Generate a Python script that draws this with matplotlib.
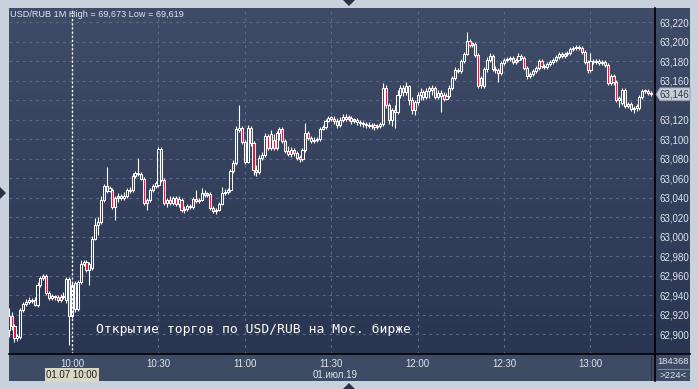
import numpy as np
import matplotlib.pyplot as plt
from matplotlib.patches import Rectangle, Polygon
from matplotlib.lines import Line2D
from matplotlib.colors import LinearSegmentedColormap

# 1-minute USD/RUB candles, first candle at 09:38
opens = [
    62.904, 62.919, 62.908, 62.896, 62.897, 62.925, 62.931, 62.933, 62.935, 62.935,
    62.930, 62.950, 62.957, 62.960, 62.942, 62.937, 62.939, 62.938, 62.935, 62.938,
    62.935, 62.956, 62.919, 62.952, 62.926, 62.953, 62.972, 62.974, 62.966, 62.968,
    62.998, 63.012, 63.015, 63.037, 63.052, 63.047, 63.048, 63.030, 63.040, 63.041,
    63.040, 63.042, 63.048, 63.048, 63.062, 63.065, 63.064, 63.059, 63.034, 63.037,
    63.048, 63.052, 63.053, 63.090, 63.058, 63.034, 63.037, 63.034, 63.040, 63.033,
    63.037, 63.027, 63.028, 63.031, 63.030, 63.039, 63.036, 63.037, 63.045, 63.043,
    63.044, 63.029, 63.026, 63.027, 63.033, 63.045, 63.046, 63.048, 63.067, 63.075,
    63.109, 63.111, 63.097, 63.077, 63.111, 63.096, 63.068, 63.066, 63.081, 63.084,
    63.103, 63.091, 63.099, 63.091, 63.106, 63.110, 63.098, 63.088, 63.085, 63.089,
    63.086, 63.081, 63.080, 63.089, 63.106, 63.101, 63.098, 63.099, 63.100, 63.110,
    63.112, 63.119, 63.122, 63.121, 63.119, 63.114, 63.120, 63.123, 63.121, 63.122,
    63.119, 63.120, 63.118, 63.116, 63.115, 63.114, 63.113, 63.114, 63.112, 63.113,
    63.115, 63.152, 63.135, 63.120, 63.130, 63.128, 63.145, 63.152, 63.148, 63.154,
    63.140, 63.130, 63.138, 63.145, 63.148, 63.143, 63.149, 63.152, 63.152, 63.143,
    63.147, 63.145, 63.141, 63.144, 63.152, 63.163, 63.171, 63.170, 63.180, 63.187,
    63.201, 63.197, 63.198, 63.186, 63.163, 63.154, 63.172, 63.181, 63.185, 63.172,
    63.171, 63.168, 63.178, 63.181, 63.182, 63.183, 63.179, 63.181, 63.185, 63.183,
    63.173, 63.165, 63.167, 63.170, 63.173, 63.180, 63.175, 63.174, 63.177, 63.179,
    63.181, 63.184, 63.187, 63.185, 63.187, 63.188, 63.192, 63.193, 63.194, 63.193,
    63.189, 63.179, 63.171, 63.180, 63.179, 63.180, 63.178, 63.179, 63.176, 63.158,
    63.165, 63.159, 63.140, 63.137, 63.150, 63.134, 63.136, 63.131, 63.132, 63.132,
    63.143, 63.149, 63.149, 63.147,
]
highs = [
    62.927, 62.923, 62.910, 62.900, 62.927, 62.933, 62.936, 62.938, 62.937, 62.938,
    62.953, 62.960, 62.962, 62.962, 62.944, 62.941, 62.940, 62.940, 62.941, 62.943,
    62.958, 62.958, 62.953, 62.954, 62.955, 62.976, 62.976, 62.976, 62.974, 63.001,
    63.019, 63.020, 63.042, 63.054, 63.071, 63.052, 63.050, 63.042, 63.045, 63.044,
    63.046, 63.050, 63.051, 63.065, 63.067, 63.081, 63.066, 63.061, 63.040, 63.050,
    63.054, 63.057, 63.092, 63.092, 63.060, 63.040, 63.042, 63.042, 63.042, 63.042,
    63.040, 63.031, 63.033, 63.033, 63.041, 63.048, 63.040, 63.050, 63.048, 63.046,
    63.046, 63.031, 63.029, 63.035, 63.051, 63.049, 63.050, 63.069, 63.079, 63.113,
    63.135, 63.113, 63.099, 63.114, 63.113, 63.098, 63.073, 63.084, 63.087, 63.106,
    63.105, 63.109, 63.105, 63.108, 63.112, 63.112, 63.100, 63.093, 63.092, 63.091,
    63.088, 63.084, 63.091, 63.116, 63.108, 63.103, 63.102, 63.102, 63.112, 63.114,
    63.121, 63.124, 63.124, 63.124, 63.122, 63.123, 63.126, 63.126, 63.125, 63.124,
    63.122, 63.122, 63.120, 63.119, 63.118, 63.118, 63.116, 63.116, 63.115, 63.118,
    63.158, 63.155, 63.137, 63.132, 63.135, 63.150, 63.156, 63.155, 63.159, 63.156,
    63.143, 63.140, 63.148, 63.152, 63.150, 63.152, 63.154, 63.155, 63.154, 63.150,
    63.150, 63.148, 63.147, 63.155, 63.165, 63.174, 63.173, 63.182, 63.189, 63.210,
    63.203, 63.200, 63.200, 63.188, 63.165, 63.174, 63.184, 63.188, 63.187, 63.175,
    63.173, 63.180, 63.183, 63.184, 63.185, 63.185, 63.183, 63.188, 63.187, 63.185,
    63.175, 63.169, 63.172, 63.175, 63.182, 63.182, 63.177, 63.179, 63.181, 63.183,
    63.186, 63.189, 63.189, 63.189, 63.190, 63.194, 63.195, 63.197, 63.197, 63.195,
    63.191, 63.181, 63.188, 63.182, 63.182, 63.182, 63.181, 63.181, 63.178, 63.167,
    63.167, 63.161, 63.144, 63.152, 63.152, 63.138, 63.138, 63.134, 63.136, 63.145,
    63.151, 63.151, 63.151, 63.149,
]
lows = [
    62.897, 62.904, 62.892, 62.893, 62.895, 62.923, 62.929, 62.931, 62.932, 62.929,
    62.928, 62.948, 62.955, 62.940, 62.935, 62.935, 62.935, 62.933, 62.933, 62.936,
    62.932, 62.889, 62.916, 62.923, 62.924, 62.951, 62.970, 62.964, 62.950, 62.966,
    62.996, 63.002, 63.013, 63.035, 63.045, 63.046, 63.028, 63.017, 63.035, 63.037,
    63.037, 63.040, 63.045, 63.046, 63.060, 63.062, 63.058, 63.032, 63.027, 63.035,
    63.046, 63.050, 63.051, 63.056, 63.032, 63.030, 63.032, 63.032, 63.031, 63.030,
    63.025, 63.024, 63.026, 63.028, 63.028, 63.034, 63.034, 63.036, 63.041, 63.041,
    63.027, 63.024, 63.023, 63.026, 63.032, 63.043, 63.044, 63.046, 63.065, 63.073,
    63.107, 63.095, 63.074, 63.075, 63.093, 63.063, 63.062, 63.064, 63.079, 63.082,
    63.089, 63.089, 63.089, 63.089, 63.099, 63.096, 63.086, 63.083, 63.082, 63.083,
    63.079, 63.076, 63.078, 63.087, 63.099, 63.096, 63.096, 63.097, 63.098, 63.109,
    63.110, 63.118, 63.119, 63.115, 63.111, 63.112, 63.118, 63.119, 63.119, 63.115,
    63.116, 63.114, 63.113, 63.112, 63.111, 63.111, 63.110, 63.109, 63.110, 63.111,
    63.113, 63.132, 63.115, 63.113, 63.111, 63.126, 63.142, 63.144, 63.145, 63.135,
    63.126, 63.125, 63.135, 63.140, 63.140, 63.141, 63.142, 63.145, 63.141, 63.141,
    63.128, 63.139, 63.140, 63.142, 63.150, 63.161, 63.168, 63.168, 63.178, 63.186,
    63.194, 63.194, 63.184, 63.152, 63.152, 63.152, 63.169, 63.179, 63.170, 63.168,
    63.159, 63.166, 63.176, 63.179, 63.180, 63.177, 63.177, 63.179, 63.181, 63.171,
    63.162, 63.163, 63.165, 63.168, 63.171, 63.173, 63.172, 63.172, 63.175, 63.177,
    63.179, 63.182, 63.183, 63.183, 63.185, 63.186, 63.190, 63.191, 63.191, 63.187,
    63.177, 63.168, 63.169, 63.177, 63.177, 63.176, 63.176, 63.174, 63.155, 63.155,
    63.156, 63.138, 63.133, 63.135, 63.132, 63.132, 63.129, 63.127, 63.129, 63.130,
    63.141, 63.147, 63.145, 63.144,
]
closes = [
    62.919, 62.908, 62.896, 62.898, 62.925, 62.931, 62.933, 62.935, 62.934, 62.930,
    62.950, 62.957, 62.960, 62.942, 62.937, 62.939, 62.938, 62.935, 62.938, 62.939,
    62.956, 62.919, 62.950, 62.926, 62.953, 62.972, 62.974, 62.966, 62.972, 62.998,
    63.012, 63.015, 63.037, 63.052, 63.047, 63.050, 63.030, 63.040, 63.041, 63.040,
    63.042, 63.048, 63.047, 63.062, 63.065, 63.064, 63.059, 63.034, 63.037, 63.048,
    63.052, 63.055, 63.090, 63.058, 63.034, 63.037, 63.034, 63.040, 63.033, 63.039,
    63.027, 63.028, 63.031, 63.030, 63.039, 63.036, 63.037, 63.045, 63.043, 63.044,
    63.029, 63.026, 63.027, 63.033, 63.045, 63.046, 63.048, 63.067, 63.075, 63.110,
    63.111, 63.097, 63.077, 63.111, 63.096, 63.068, 63.066, 63.081, 63.084, 63.103,
    63.091, 63.105, 63.091, 63.106, 63.110, 63.098, 63.088, 63.085, 63.089, 63.086,
    63.081, 63.080, 63.089, 63.106, 63.101, 63.098, 63.099, 63.100, 63.110, 63.112,
    63.119, 63.122, 63.121, 63.119, 63.114, 63.120, 63.123, 63.121, 63.122, 63.119,
    63.120, 63.118, 63.116, 63.115, 63.114, 63.113, 63.114, 63.112, 63.113, 63.115,
    63.152, 63.135, 63.120, 63.130, 63.128, 63.145, 63.152, 63.148, 63.154, 63.140,
    63.130, 63.138, 63.145, 63.148, 63.143, 63.149, 63.152, 63.150, 63.143, 63.147,
    63.144, 63.141, 63.144, 63.152, 63.163, 63.171, 63.170, 63.180, 63.187, 63.201,
    63.197, 63.198, 63.186, 63.154, 63.156, 63.172, 63.181, 63.185, 63.172, 63.171,
    63.168, 63.178, 63.181, 63.182, 63.183, 63.179, 63.181, 63.185, 63.183, 63.173,
    63.165, 63.167, 63.170, 63.173, 63.180, 63.175, 63.174, 63.177, 63.179, 63.181,
    63.184, 63.187, 63.185, 63.187, 63.188, 63.192, 63.193, 63.194, 63.193, 63.189,
    63.179, 63.171, 63.180, 63.179, 63.180, 63.178, 63.179, 63.176, 63.158, 63.165,
    63.159, 63.140, 63.142, 63.150, 63.134, 63.136, 63.131, 63.132, 63.134, 63.143,
    63.149, 63.149, 63.147, 63.146,
]

time_ticks = [22, 52, 82, 112, 142, 172, 202]
time_labels = ['10:00', '10:30', '11:00', '11:30', '12:00', '12:30', '13:00']
price_ticks = [62.900, 62.920, 62.940, 62.960, 62.980, 63.000, 63.020, 63.040, 63.060,
               63.080, 63.100, 63.120, 63.140, 63.160, 63.180, 63.200, 63.220]
cursor_idx = 22
last_price = 63.146
title = 'USD/RUB 1M High = 69,673 Low = 69,619'
note = 'Открытие торгов по USD/RUB на Мос. бирже'

W, H = 698, 389
YMIN, YMAX = 62.8795, 63.2345
fig = plt.figure(figsize=(W / 100, H / 100), dpi=100)
fig.patch.set_facecolor('#c9d1dc')
ui_font = 'Liberation Sans'


def fx(px):
    return px / W


def fy(py):
    return 1 - py / H


txt = '#dfe5ef'

# dark background (plot + price scale) with vertical gradient
bg = fig.add_axes([fx(9), fy(354), fx(690) - fx(9), fy(8) - fy(354)], zorder=-2)
grad = np.linspace(0, 1, 256).reshape(-1, 1)
cmap = LinearSegmentedColormap.from_list('bg', ['#2a3552', '#3f4c67'])
bg.imshow(grad, aspect='auto', cmap=cmap, origin='lower', extent=[0, 1, 0, 1])
bg.set_axis_off()

# time scale panel
fig.patches.append(Rectangle((fx(9), fy(381)), fx(690) - fx(9), fy(354) - fy(381),
                             transform=fig.transFigure, facecolor='#3e4b65',
                             edgecolor='none', zorder=-3))

ax = fig.add_axes([fx(9), fy(354), fx(655) - fx(9), fy(8) - fy(354)], zorder=1)
ax.patch.set_alpha(0)

o = np.array(opens)
h = np.array(highs)
l = np.array(lows)
c = np.array(closes)
x = np.arange(len(o))
top = np.maximum(o, c)
bot = np.minimum(o, c)
hgt = np.maximum(top - bot, 0.0012)
bear = c < o

ax.vlines(x, top, np.maximum(h, top), color='white', lw=0.8, zorder=3)
ax.vlines(x, np.minimum(l, bot), bot, color='white', lw=0.8, zorder=3)
ax.bar(x, hgt, bottom=bot, width=0.72,
       color=np.where(bear, '#ee1233', 'none'), edgecolor='white',
       linewidth=0.75, zorder=4)

ax.set_xlim(0.1, 224.4)
ax.set_ylim(YMIN, YMAX)

for t in time_ticks:
    ax.axvline(t, color='#5b6985', lw=0.8, ls=(0, (2.5, 3.5)), zorder=1)
for p in price_ticks:
    ax.axhline(p, color='#5b6985', lw=0.8, ls=(0, (2.5, 3.5)), zorder=1)

ax.axvline(cursor_idx, color='white', lw=1.0, ls=(0, (1.5, 1.5)), zorder=5)

ax.yaxis.tick_right()
ax.set_yticks(price_ticks)
ax.set_yticklabels([f'{p:.3f}'.replace('.', ',') for p in price_ticks],
                   family=ui_font)
ax.set_xticks(time_ticks)
ax.set_xticklabels(time_labels, family=ui_font)
ax.tick_params(axis='y', length=0, pad=3, labelsize=7.0, labelcolor=txt)
ax.tick_params(axis='x', length=0, pad=3.5, labelsize=7.0, labelcolor=txt)
for s in ax.spines.values():
    s.set_visible(False)
# the last-price box covers the 63,140 label in the reference
for lbl, p in zip(ax.get_yticklabels(), price_ticks):
    if abs(p - 63.140) < 1e-6:
        lbl.set_visible(False)

# black separators
fig.add_artist(Line2D([fx(9), fx(690)], [fy(354), fy(354)], color='black', lw=1.2))
fig.add_artist(Line2D([fx(655), fx(655)], [fy(8), fy(381)], color='black', lw=1.2))
fig.add_artist(Line2D([fx(651), fx(651)], [fy(356), fy(380)], color='#2c3446', lw=0.8))

# header
fig.text(fx(10), fy(14.5), title, color=txt, fontsize=6.6, va='center', ha='left',
         family=ui_font)

# note on the chart
fig.text(fx(96), fy(329), note, color='white', fontsize=9.4, va='center', ha='left',
         family='DejaVu Sans Mono')

# last price marker
py = fy(354) + (last_price - YMIN) / (YMAX - YMIN) * (fy(8) - fy(354))
ph = 13 / H
fig.patches.append(Polygon([(fx(656), py), (fx(660), py + ph / 2), (fx(690), py + ph / 2),
                            (fx(690), py - ph / 2), (fx(660), py - ph / 2)],
                           closed=True, transform=fig.transFigure,
                           facecolor='#c6ccd6', edgecolor='#8a93a3', lw=0.6, zorder=6))
fig.text(fx(674), py, f'{last_price:.3f}'.replace('.', ','), color='#333a48',
         fontsize=7.0, ha='center', va='center', zorder=7, family=ui_font)

# cursor time box and date
fig.text(fx(72), fy(375), '01.07 10:00', color='#1c1c1c', fontsize=7.0,
         ha='center', va='center', family=ui_font,
         bbox=dict(boxstyle='square,pad=0.2', facecolor='#d8d8c4', edgecolor='none'))
fig.text(fx(335), fy(374.5), '01.июл.19', color=txt, fontsize=7.0, ha='center',
         va='center', family=ui_font)

# bottom-right counters
fig.text(fx(673), fy(362), '184368', color=txt, fontsize=6.8, ha='center', va='center',
         family=ui_font)
fig.add_artist(Line2D([fx(658), fx(688)], [fy(368.5), fy(368.5)], color='#7d8799', lw=0.8))
fig.text(fx(673), fy(375.5), '>224<', color=txt, fontsize=6.8, ha='center', va='center',
         family=ui_font)

# scroll arrows on the frame
for pts in ([(343, 0), (355, 0), (349, 6)],
            [(343, 389), (355, 389), (349, 383)],
            [(0, 187), (0, 199), (6, 193)]):
    fig.patches.append(Polygon([(fx(a), fy(b)) for a, b in pts], closed=True,
                               transform=fig.transFigure, facecolor='#2a3345',
                               edgecolor='none'))

fig.savefig('out.png', dpi=100, facecolor=fig.get_facecolor())
